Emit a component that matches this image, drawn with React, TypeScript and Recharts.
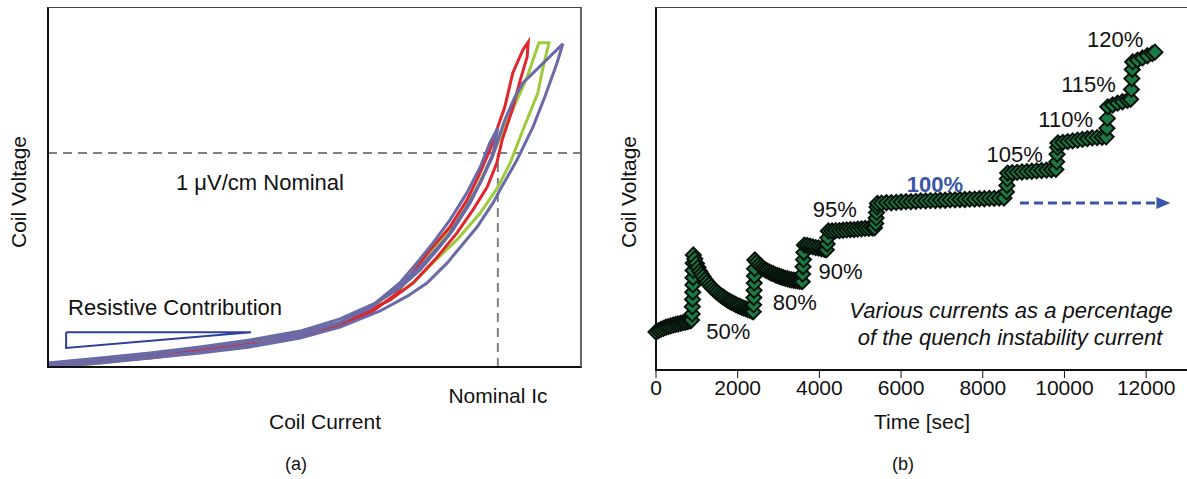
import React from "react"
import { ComposedChart, Line, Scatter, XAxis, YAxis, ReferenceLine } from "recharts"

const FONT = '"Liberation Sans", Arial, Helvetica, sans-serif'

// (a) coil current vs coil voltage loops, arbitrary units (0-100)
const redCurrent = [0, 9.8, 19.1, 28.5, 37.9, 47.3, 54.8, 60.4, 65.1, 68.5, 71.7, 75.4, 78.6, 80.7, 82.9, 84.4, 85.7, 87.2, 89.1, 90.1, 89.9, 88.6, 87.1, 85.2, 84.2, 82.4, 79.7, 76.7, 73.0, 68.5, 64.2, 56.7, 49.2, 37.9, 28.5, 19.1, 9.8, 0]
const redVoltage = [0.6, 1.9, 3.3, 4.7, 6.4, 8.6, 11.4, 15.0, 20.1, 26.5, 32.6, 39.0, 46.5, 52.9, 60.4, 66.9, 72.4, 81.9, 88.3, 90.5, 86.4, 79.9, 71.6, 63.2, 56.8, 50.1, 43.7, 37.3, 30.6, 23.4, 18.7, 13.1, 9.5, 6.1, 4.2, 2.5, 1.4, 0.3]

const greenCurrent = [0.8, 9.8, 19.1, 28.5, 37.9, 47.3, 54.8, 60.4, 65.5, 69.8, 73.5, 77.3, 80.5, 83.3, 85.4, 88.0, 89.9, 92.1, 94.0, 92.9, 91.9, 89.1, 86.7, 84.4, 81.1, 76.7, 72.2, 68.5, 63.2, 54.8, 47.3, 37.9, 28.5, 19.1, 9.8, 2.3]
const greenVoltage = [0, 1.4, 3.1, 4.7, 6.7, 9.2, 12.3, 16.2, 22.3, 27.9, 34.5, 41.8, 50.1, 58.5, 66.0, 74.4, 80.8, 90.3, 90.3, 83.6, 76.3, 66.0, 56.8, 50.1, 42.9, 35.4, 29.0, 23.4, 18.1, 12.0, 8.9, 6.4, 4.5, 2.8, 1.1, 0]

const purpleCurrent = [0, 9.8, 19.1, 28.5, 37.9, 47.3, 54.8, 60.4, 66.0, 70.7, 74.9, 78.2, 81.1, 83.3, 85.7, 87.6, 89.1, 96.6, 95.5, 93.2, 91.0, 88.0, 84.8, 83.5, 80.5, 74.9, 71.1, 67.5, 62.3, 54.8, 47.3, 37.9, 28.5, 19.1, 9.8, 0]
const purpleVoltage = [0.8, 2.2, 3.6, 5.3, 7.2, 9.5, 12.5, 16.4, 22.8, 29.2, 36.2, 43.7, 51.3, 58.2, 68.8, 75.2, 79.1, 90.0, 84.7, 75.2, 66.9, 57.7, 49.3, 45.7, 39.0, 29.0, 23.4, 19.8, 15.6, 11.1, 8.1, 5.6, 3.9, 2.5, 1.1, 0]

const purple2Current = [0, 9.8, 19.1, 28.5, 37.9, 47.3, 54.8, 61.4, 66.0, 69.2, 72.2, 75.4, 78.6, 81.1, 82.9, 84.4, 83.5, 81.6, 79.2, 76.0, 73.0, 69.8, 66.0, 60.4, 54.8, 47.3, 37.9, 28.5, 19.1, 9.8, 0]
const purple2Voltage = [1.1, 2.5, 3.9, 5.6, 7.5, 10.0, 13.4, 17.8, 23.4, 29.0, 34.5, 40.9, 48.5, 55.7, 62.4, 66.6, 59.6, 52.9, 45.7, 38.2, 32.6, 27.0, 22.0, 16.7, 12.3, 8.9, 6.1, 4.2, 2.8, 1.4, 0.3]

const resistiveCurrent = [3.4, 38.1, 3.4, 3.4]
const resistiveVoltage = [9.7, 9.7, 5.3, 9.7]

const nominalVoltage = 59.6
const nominalCurrent = 84.4

// (b) coil voltage vs time
const timeSec = [
  0, 60, 120, 180, 240, 300, 360, 420, 480, 540, 600, 660, 720, 780, 840, 870,
  885, 890, 895, 900, 903, 906, 909, 912, 915,
  950, 990, 1030, 1070, 1110, 1150, 1200, 1250, 1300, 1350, 1400, 1450, 1500, 1550, 1600, 1650, 1700, 1750, 1800, 1850, 1900, 1950, 2000, 2050, 2100, 2150, 2200, 2250, 2300, 2350, 2380,
  2390, 2395, 2400, 2405, 2410, 2415, 2420,
  2470, 2520, 2570, 2620, 2670, 2720, 2770, 2820, 2870, 2920, 2970, 3020, 3070, 3120, 3170, 3220, 3270, 3320, 3370, 3420, 3470, 3520, 3580,
  3590, 3600, 3610, 3620, 3630,
  3700, 3770, 3840, 3910, 3980, 4050, 4120, 4170,
  4190, 4205, 4220,
  4310, 4400, 4490, 4580, 4670, 4760, 4850, 4940, 5030, 5120, 5210, 5300, 5350,
  5380, 5390, 5400, 5410, 5420,
  5520, 5640, 5760, 5880, 6000, 6120, 6240, 6360, 6480, 6600, 6720, 6840, 6960, 7080, 7200, 7320, 7440, 7560, 7680, 7800, 7920, 8040, 8160, 8280, 8400, 8520,
  8580, 8590, 8600, 8610,
  8720, 8840, 8960, 9080, 9200, 9320, 9440, 9560, 9680, 9790,
  9810, 9820, 9830, 9840,
  9960, 10080, 10200, 10320, 10440, 10560, 10680, 10800, 10920, 11020,
  11040, 11050, 11060,
  11180, 11300, 11420, 11540, 11620,
  11640, 11650, 11660, 11670,
  11790, 11910, 12030, 12150, 12215,
]
const coilVoltage = [
  10.5, 10.9, 11.2, 11.5, 11.8, 12.0, 12.2, 12.4, 12.6, 12.7, 12.9, 13.1, 13.2, 13.4, 13.6, 13.8,
  15.5, 17.5, 19.5, 21.5, 23.5, 25.5, 27.5, 29.5, 31.8,
  30.7, 29.4, 28.3, 27.3, 26.5, 25.8, 25.0, 24.3, 23.6, 23.0, 22.4, 21.9, 21.4, 20.9, 20.5, 20.1, 19.7, 19.3, 19.0, 18.7, 18.4, 18.1, 17.8, 17.6, 17.3, 17.1, 16.9, 16.7, 16.5, 16.3, 16.1,
  18.0, 20.0, 22.0, 24.0, 26.0, 28.0, 30.4,
  29.8, 29.1, 28.6, 28.1, 27.7, 27.4, 27.1, 26.8, 26.6, 26.3, 26.1, 25.9, 25.7, 25.5, 25.3, 25.2, 25.0, 24.9, 24.8, 24.7, 24.6, 24.5, 24.4,
  26.5, 28.5, 30.5, 32.5, 34.5,
  34.4, 34.2, 34.0, 33.8, 33.7, 33.5, 33.3, 33.2,
  34.8, 36.5, 38.4,
  38.4, 38.5, 38.5, 38.6, 38.7, 38.8, 38.8, 38.9, 39.0, 39.1, 39.1, 39.2, 39.3,
  40.5, 42.0, 43.5, 45.0, 46.0,
  46.1, 46.2, 46.2, 46.3, 46.4, 46.5, 46.5, 46.6, 46.7, 46.7, 46.8, 46.8, 46.9, 46.9, 47.0, 47.0, 47.1, 47.1, 47.2, 47.2, 47.3, 47.3, 47.4, 47.4, 47.5, 47.5,
  49.2, 51.0, 52.8, 54.4,
  54.5, 54.6, 54.7, 54.8, 54.9, 55.0, 55.1, 55.2, 55.3, 55.4,
  57.5, 59.6, 61.5, 62.7,
  62.9, 63.1, 63.3, 63.5, 63.7, 63.9, 64.1, 64.2, 64.3, 64.4,
  66.8, 69.5, 72.7,
  73.2, 73.7, 74.1, 74.5, 74.8,
  77.5, 80.5, 83.0, 85.1,
  85.6, 86.2, 86.8, 87.4, 87.8,
]
const timeTicks = [0, 2000, 4000, 6000, 8000, 10000, 12000]
const arrowTime = [8910, 12300]
const arrowVoltage = [46.1, 46.1]

const stepLabels = [
  { text: "50%", t: 1770, v: 10.5 },
  { text: "80%", t: 3400, v: 18.5 },
  { text: "90%", t: 4520, v: 27.1 },
  { text: "95%", t: 4380, v: 44.2 },
  { text: "105%", t: 8780, v: 59.4 },
  { text: "110%", t: 10030, v: 69.1 },
  { text: "115%", t: 10590, v: 78.7 },
  { text: "120%", t: 11240, v: 91.2 },
]

const toPoints = (xs: number[], ys: number[]) => xs.map((i, k) => ({ i, v: ys[k] }))
const red = toPoints(redCurrent, redVoltage)
const green = toPoints(greenCurrent, greenVoltage)
const purple = toPoints(purpleCurrent, purpleVoltage)
const purple2 = toPoints(purple2Current, purple2Voltage)
const resistive = toPoints(resistiveCurrent, resistiveVoltage)

const steps = timeSec.map((t, k) => ({ t, v: coilVoltage[k] }))
const arrow = arrowTime.map((t, k) => ({ t, v: arrowVoltage[k] }))

// panel (b) pixel mapping for text placed over the plot
const B_LEFT = 656
const B_WIDTH = 531
const B_TOP = 8
const B_HEIGHT = 362
const bx = (t: number) => B_LEFT + (t / 13000) * B_WIDTH
const by = (v: number) => B_TOP + B_HEIGHT - (v / 100) * B_HEIGHT

function Diamond(props: any) {
  const { cx, cy } = props
  if (cx == null || cy == null) return <g />
  const r = 7.5
  return (
    <polygon
      points={`${cx - r},${cy} ${cx},${cy - r} ${cx + r},${cy} ${cx},${cy + r}`}
      fill="#1c7a45"
      stroke="#08120a"
      strokeWidth={2}
    />
  )
}

function ArrowDot(props: any) {
  const { cx, cy, index } = props
  if (index !== 1) return <g key={`a${index}`} />
  return <polygon key={`a${index}`} points={`${cx - 2},${cy - 6} ${cx + 12},${cy} ${cx - 2},${cy + 6}`} fill="#3b55a8" />
}

function Txt({ x, y, children, style }: { x: number; y: number; children: React.ReactNode; style?: React.CSSProperties }) {
  return (
    <div
      style={{
        position: "absolute",
        left: x,
        top: y,
        transform: "translate(-50%, -50%)",
        whiteSpace: "nowrap",
        lineHeight: 1,
        fontFamily: FONT,
        fontSize: 21,
        color: "#111",
        ...style,
      }}
    >
      {children}
    </div>
  )
}

export default function App() {
  return (
    <div style={{ position: "relative", width: 1187, height: 479, background: "#fff", overflow: "hidden" }}>
      <style>{"body{margin:0}"}</style>

      {/* (a) */}
      <div style={{ position: "absolute", left: 0, top: 0 }}>
        <ComposedChart width={600} height={380} margin={{ top: 8, right: 19, bottom: 13, left: 48 }}>
          <XAxis type="number" dataKey="i" domain={[0, 100]} hide allowDataOverflow />
          <YAxis type="number" dataKey="v" domain={[0, 100]} hide allowDataOverflow />
          <ReferenceLine y={nominalVoltage} stroke="#808080" strokeWidth={2} strokeDasharray="9 6" />
          <ReferenceLine
            segment={[{ x: nominalCurrent, y: 0 }, { x: nominalCurrent, y: nominalVoltage }]}
            stroke="#808080"
            strokeWidth={2}
            strokeDasharray="9 6"
          />
          <Line data={resistive} dataKey="v" stroke="#2d3f9c" strokeWidth={2} dot={false} isAnimationActive={false} />
          <Line data={green} dataKey="v" stroke="#9dcb3c" strokeWidth={3} dot={false} isAnimationActive={false} />
          <Line data={red} dataKey="v" stroke="#e0262c" strokeWidth={3} dot={false} isAnimationActive={false} />
          <Line data={purple2} dataKey="v" stroke="#6a6aa6" strokeWidth={3} dot={false} isAnimationActive={false} />
          <Line data={purple} dataKey="v" stroke="#6a6aa6" strokeWidth={3} dot={false} isAnimationActive={false} />
        </ComposedChart>
      </div>
      <div
        style={{
          position: "absolute",
          left: 47,
          top: 7,
          width: 535,
          height: 361,
          boxSizing: "border-box",
          borderLeft: "2px solid #111",
          borderBottom: "2px solid #111",
          borderTop: "1px solid #444",
          borderRight: "2px solid #666",
          pointerEvents: "none",
        }}
      />
      <Txt x={18} y={192} style={{ transform: "translate(-50%, -50%) rotate(-90deg)" }}>Coil Voltage</Txt>
      <Txt x={260} y={183} style={{ fontSize: 22 }}>1 μV/cm Nominal</Txt>
      <Txt x={175} y={308} style={{ fontSize: 22 }}>Resistive Contribution</Txt>
      <Txt x={498} y={395}>Nominal Ic</Txt>
      <Txt x={325} y={421}>Coil Current</Txt>
      <Txt x={296} y={464} style={{ fontSize: 18 }}>(a)</Txt>

      {/* (b) */}
      <div
        style={{
          position: "absolute",
          left: 655,
          top: 7,
          width: 540,
          height: 364,
          boxSizing: "border-box",
          borderLeft: "2px solid #111",
          borderTop: "1px solid #444",
          pointerEvents: "none",
        }}
      />
      <div style={{ position: "absolute", left: 600, top: 0 }}>
        <ComposedChart width={587} height={420} margin={{ top: 8, right: 0, bottom: 10, left: 56 }}>
          <XAxis
            type="number"
            dataKey="t"
            domain={[0, 13000]}
            ticks={timeTicks}
            interval={0}
            tickSize={8}
            height={40}
            tick={{ fill: "#111", fontSize: 21, fontFamily: FONT }}
            axisLine={{ stroke: "#111", strokeWidth: 2 }}
            tickLine={{ stroke: "#111" }}
          />
          <YAxis type="number" dataKey="v" domain={[0, 100]} hide />
          <Line
            data={arrow}
            dataKey="v"
            stroke="#3b55a8"
            strokeWidth={3}
            strokeDasharray="9 5"
            dot={ArrowDot}
            isAnimationActive={false}
          />
          <Scatter data={steps} dataKey="v" shape={Diamond} isAnimationActive={false} />
        </ComposedChart>
      </div>
      <Txt x={628} y={192} style={{ transform: "translate(-50%, -50%) rotate(-90deg)" }}>Coil Voltage</Txt>
      {stepLabels.map((s) => (
        <Txt key={s.text} x={bx(s.t)} y={by(s.v)} style={{ fontSize: 22 }}>
          {s.text}
        </Txt>
      ))}
      <Txt x={935} y={185} style={{ fontSize: 22, fontWeight: "bold", color: "#3b55a8" }}>100%</Txt>
      <Txt x={1011} y={311} style={{ fontStyle: "italic", fontSize: 22 }}>Various currents as a percentage</Txt>
      <Txt x={1010} y={338} style={{ fontStyle: "italic", fontSize: 22 }}>of the quench instability current</Txt>
      <Txt x={922} y={421}>Time [sec]</Txt>
      <Txt x={903} y={464} style={{ fontSize: 18 }}>(b)</Txt>
    </div>
  )
}
